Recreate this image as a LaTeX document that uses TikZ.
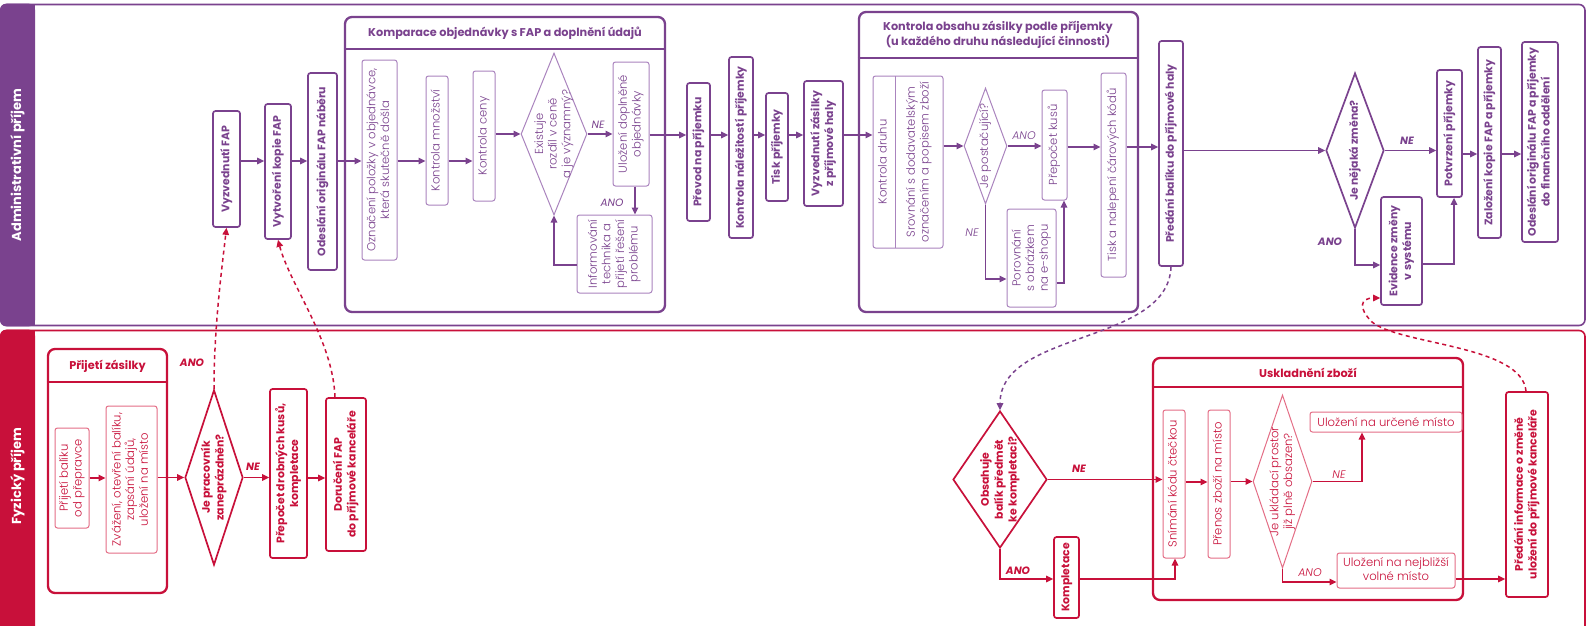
\documentclass[tikz,border=0pt]{standalone}
\usepackage{fontspec}
\setmainfont{Poppins}
\newfontfamily\lightfont{Poppins Light}[ItalicFont={Poppins Light Italic}]
\usetikzlibrary{arrows.meta,shapes.geometric}
\definecolor{vio}{RGB}{122,66,142}
\definecolor{vioL}{RGB}{170,132,190}
\definecolor{crim}{RGB}{200,16,58}
\definecolor{crimL}{RGB}{228,110,134}
% vertical (bottom-to-top) multi-line text
\newcommand\vt[1]{\rotatebox{90}{\begin{tabular}{@{}c@{}}#1\end{tabular}}}
\newcommand\hztext[1]{\begin{tabular}{@{}c@{}}#1\end{tabular}}
% box given by its corners: style, x1, y1, x2, y2, name, text
\newcommand\bx[7]{\node[#1,minimum width={#4-#2},minimum height={#5-#3}] (#6) at ({(#2+#4)/2},{(#3+#5)/2}) {#7};}
\renewcommand\arraystretch{1}
\tikzset{
  boldtxt/.style={font=\bfseries\fontsize{10.9}{13.8}\selectfont},
  thintxt/.style={font=\lightfont\fontsize{11.6}{13.6}\selectfont},
  boxV/.style={draw=vio,line width=1.7,rounded corners=2.5,text=vio,inner sep=0,boldtxt},
  thinV/.style={draw=vioL,line width=1,rounded corners=2.5,text=vio,inner sep=0,thintxt},
  boxR/.style={draw=crim,line width=1.7,rounded corners=2.5,text=crim,inner sep=0,boldtxt},
  thinR/.style={draw=crimL,line width=1,rounded corners=2.5,text=crim,inner sep=0,thintxt},
  grpV/.style={draw=vio,line width=2.3,rounded corners=7,inner sep=0},
  grpR/.style={draw=crim,line width=2.3,rounded corners=7,inner sep=0},
  diaV/.style={diamond,draw=vio,line width=1.7,inner sep=0},
  diaVt/.style={diamond,draw=vioL,line width=1,inner sep=0},
  diaR/.style={diamond,draw=crim,line width=1.7,inner sep=0},
  diaRt/.style={diamond,draw=crimL,line width=1,inner sep=0},
  arV/.style={draw=vio,line width=1.5,-{Triangle[length=7,width=6.5]}},
  arR/.style={draw=crim,line width=1.5,-{Triangle[length=7,width=6.5]}},
  dashV/.style={draw=vio,line width=1.5,dash pattern=on 4 off 3.5,-{Triangle[length=7,width=6.5]}},
  dashR/.style={draw=crim,line width=1.5,dash pattern=on 4 off 3.5,-{Triangle[length=7,width=6.5]}},
  labB/.style={inner sep=0,font=\bfseries\itshape\fontsize{10.6}{12}\selectfont},
  labM/.style={inner sep=0,font=\itshape\fontsize{10.6}{12}\selectfont},
  labL/.style={inner sep=0,font=\lightfont\itshape\fontsize{11}{12}\selectfont},
  ttl/.style={inner sep=0,font=\bfseries\fontsize{11.3}{15}\selectfont,align=center},
  lane/.style={inner sep=0,text=white,rotate=90,font=\bfseries\fontsize{13}{15}\selectfont}
}
\begin{document}
\begin{tikzpicture}[x=1pt,y=-1pt]
\useasboundingbox (0,0) rectangle (1587,625);
\clip (0,0) rectangle (1587,625);
\fill[white] (0,0) rectangle (1587,625);

% ---- swim lanes
\draw[vio,line width=1.6,rounded corners=6] (1,4.5) rectangle (1585,325.5);
\fill[vio,rounded corners=6] (0,3.7) rectangle (35,326.3);
\fill[vio] (25,3.7) rectangle (35,326.3);
\node[lane] (laneA) at (17.5,165) {Administrativní příjem};
\draw[crim,line width=1.6,rounded corners=6] (1,330.5) rectangle (1585,660);
\fill[crim,rounded corners=6] (0,329.7) rectangle (35,660);
\fill[crim] (25,329.7) rectangle (35,660);
\node[lane] (laneB) at (17.5,476) {Fyzický příjem};

% ---- administrative lane
\bx{boxV}{213}{111}{240}{227}{t1}{\vt{Vyzvednutí FAP}}
\bx{boxV}{265}{104}{291}{239}{t2}{\vt{Vytvoření kopie FAP}}
\bx{boxV}{308}{73}{337}{270}{t3}{\vt{Odeslání originálu FAP náběru}}

\bx{grpV}{345}{17}{665}{312}{grpA}{}
\draw[vio,line width=2.3] (grpA.west|-0,49) -- (grpA.east|-0,49);
\node[ttl,text=vio] (grpAt) at (505,33) {Komparace objednávky s FAP a doplnění údajů};
\bx{thinV}{362}{60}{397}{260}{k1}{\vt{Označení položky v objednávce,\\ která skutečně došla}}
\bx{thinV}{426}{76}{448}{205}{k2}{\vt{Kontrola množství}}
\bx{thinV}{473}{71}{495}{201}{k3}{\vt{Kontrola ceny}}
\bx{diaVt}{521}{53}{587}{215}{kd}{}
\node[thintxt,text=vio,inner sep=0] (kdt) at (kd) {\vt{Existuje\\ rozdíl v ceně\\ a je významný?}};
\bx{thinV}{613}{62}{649}{186}{k4}{\vt{Uložení doplněné\\ objednávky}}
\bx{thinV}{577}{215}{652}{293}{k5}{\vt{Informování\\ technika a\\ přijetí řešení\\ problému}}

\bx{boxV}{687}{83}{710}{221}{p1}{\vt{Převod na příjemku}}
\bx{boxV}{729}{57}{753}{238}{p2}{\vt{Kontrola náležitostí příjemky}}
\bx{boxV}{766}{93}{788}{201}{p3}{\vt{Tisk příjemky}}
\bx{boxV}{804}{81}{843}{206}{p4}{\vt{Vyzvednutí zásilky\\ z příjmové haly}}

\bx{grpV}{859}{12}{1138}{312}{grpB}{}
\draw[vio,line width=2.3] (grpB.west|-0,58) -- (grpB.east|-0,58);
\node[ttl,text=vio] (grpBt) at (998,35) {Kontrola obsahu zásilky podle příjemky\\(u každého druhu následující činnosti)};
\bx{thinV}{873}{76}{943}{248}{c1}{}
\draw[vioL,line width=1] (895,76) -- (895,248);
\node[thintxt,text=vio,inner sep=0] (c1a) at (884,162) {\vt{Kontrola druhu}};
\node[thintxt,text=vio,inner sep=0] (c1b) at (919,162) {\vt{Srovnání s dodavatelským\\ označením a popisem zboží}};
\bx{diaVt}{964}{88}{1007}{204}{cd}{}
\node[thintxt,text=vio,inner sep=0] (cdt) at (cd) {\vt{Je postačující?}};
\bx{thinV}{1042}{90}{1067}{200}{c2}{\vt{Přepočet kusů}}
\bx{thinV}{1007}{209}{1056}{307}{c3}{\vt{Porovnání\\ s obrázkem\\ na e-shopu}}
\bx{thinV}{1101}{73}{1126}{277}{c4}{\vt{Tisk a nalepení čárových kódů}}

\bx{boxV}{1159}{41}{1183}{266}{a1}{\vt{Předání balíku do příjmové haly}}
\bx{diaV}{1326}{73}{1384}{228}{ad}{}
\node[boldtxt,text=vio,inner sep=0] (adt) at (ad) {\vt{Je nějaká změna?}};
\bx{boxV}{1437}{70}{1462}{197}{a2}{\vt{Potvrzení příjemky}}
\bx{boxV}{1381}{197}{1422}{305}{a3}{\vt{Evidence změny\\ v systému}}
\bx{boxV}{1478}{47}{1501}{238}{a4}{\vt{Založení kopie FAP a příjemky}}
\bx{boxV}{1522}{42}{1558}{242}{a5}{\vt{Odeslání originálu FAP a příjemky\\ do finančního oddělení}}

% connectors, administrative lane
\draw[arV] (t1.east|-0,161) -- (t2.west|-0,161);
\draw[arV] (t2.east|-0,161) -- (t3.west|-0,161);
\draw[arV] (t3.east|-0,161) -- (k1.west|-0,161);
\draw[arV] (k1.east|-0,161) -- (k2.west|-0,161);
\draw[arV] (k2.east|-0,161) -- (k3.west|-0,161);
\draw[arV] (k3.east|-kd.west) -- (kd.west);
\draw[arV] (kd.east) -- (k4.west|-kd.east);
\draw[arV] (k4.south-|635,0) -- (k5.north-|635,0);
\draw[arV] (k5.west|-0,265) -| (kd.south);
\draw[arV] (k4.east|-0,135) -- (p1.west|-0,135);
\draw[arV] (p1.east|-0,135) -- (p2.west|-0,135);
\draw[arV] (p2.east|-0,135) -- (p3.west|-0,135);
\draw[arV] (p3.east|-0,135) -- (p4.west|-0,135);
\draw[arV] (p4.east|-0,135) -- (c1.west|-0,135);
\draw[arV] (c1.east|-cd.west) -- (cd.west);
\draw[arV] (cd.east) -- (c2.west|-cd.east);
\draw[arV] (cd.south) |- (c3.west|-0,279);
\draw[arV] (c3.east|-0,283) -| (c2.south-|1064,0);
\draw[arV] (c2.east|-0,147) -- (c4.west|-0,147);
\draw[arV] (c4.east|-0,147) -- (a1.west|-0,147);
\draw[arV] (a1.east|-ad.west) -- (ad.west);
\draw[arV] (ad.east) -- (a2.west|-ad.east);
\draw[arV] (ad.south) |- (a3.west|-0,265);
\draw[arV] (a3.east|-0,264) -| (a2.south-|1454,0);
\draw[arV] (a2.east|-0,154) -- (a4.west|-0,154);
\draw[arV] (a4.east|-0,154) -- (a5.west|-0,154);

\node[labM,text=vio] (lkdN) at (598,125) {NE};
\node[labM,text=vio] (lkdA) at (612,203) {ANO};
\node[labL,text=vio] (lcdA) at (1024,136) {ANO};
\node[labL,text=vio] (lcdN) at (972,233) {NE};
\node[labB,text=vio] (ladN) at (1407,141) {NE};
\node[labB,text=vio] (ladA) at (1330,242) {ANO};

% ---- physical lane
\bx{grpR}{48}{349}{167}{593}{grpC}{}
\draw[crim,line width=2.3] (grpC.west|-0,382) -- (grpC.east|-0,382);
\node[ttl,text=crim] (grpCt) at (107.5,366) {Přijetí zásilky};
\bx{thinR}{55}{428}{89}{528}{f1}{\vt{Přijetí balíku\\ od přepravce}}
\bx{thinR}{106}{406}{157}{553}{f2}{\vt{Zvážení, otevření balíku,\\ zapsání údajů,\\ uložení na místo}}
\bx{diaR}{185}{390}{243}{565}{fd}{}
\node[boldtxt,text=crim,inner sep=0] (fdt) at (fd) {\vt{Je pracovník\\ zaneprázdněn?}};
\bx{boxR}{270}{389}{307}{558}{f3}{\vt{Přepočet drobných kusů,\\ kompletace}}
\bx{boxR}{326}{398}{366}{551}{f4}{\vt{Doručení FAP\\ do příjmové kanceláře}}

\bx{diaR}{953}{411}{1047}{548}{gd}{}
\node[boldtxt,text=crim,inner sep=0] (gdt) at (gd) {\vt{Obsahuje\\ balík předmět\\ ke kompletaci?}};
\bx{boxR}{1054}{537}{1079}{618}{g1}{\vt{Kompletace}}

\bx{grpR}{1153}{358}{1463}{600}{grpD}{}
\draw[crim,line width=2.3] (grpD.west|-0,387) -- (grpD.east|-0,387);
\node[ttl,text=crim] (grpDt) at (1308,373) {Uskladnění zboží};
\bx{thinR}{1163}{410}{1185}{558}{s1}{\vt{Snímání kódu čtečkou}}
\bx{thinR}{1208}{410}{1230}{558}{s2}{\vt{Přenos zboží na místo}}
\bx{diaRt}{1253}{395}{1312}{568}{sd}{}
\node[thintxt,text=crim,inner sep=0] (sdt) at (sd) {\vt{Je ukládací prostor\\ již plně obsazen?}};
\bx{thinR}{1310}{412}{1462}{432}{s3}{Uložení na určené místo}
\bx{thinR}{1337}{553}{1455}{588}{s4}{\hztext{Uložení na nejbližší\\ volné místo}}
\bx{boxR}{1506}{392}{1548}{597}{r1}{\vt{Předání informace o změně\\ uložení do příjmové kanceláře}}

% connectors, physical lane
\draw[arR] (f1.east|-0,478) -- (f2.west|-0,478);
\draw[arR] (f2.east|-fd.west) -- (fd.west);
\draw[arR] (fd.east) -- (f3.west|-fd.east);
\draw[arR] (f3.east|-0,478) -- (f4.west|-0,478);
\draw[arR] (gd.east) -- (s1.west|-gd.east);
\draw[arR] (gd.south) |- (g1.west|-0,579);
\draw[arR] (g1.east|-0,579) -| (s1.south-|1175,0);
\draw[arR] (s1.east|-0,482) -- (s2.west|-0,482);
\draw[arR] (s2.east|-sd.west) -- (sd.west);
\draw[arR] (sd.east) -| (s3.south-|1362,0);
\draw[arR] (sd.south) |- (s4.west|-0,582);
\draw[arR] (s4.east|-0,579) -- (r1.west|-0,579);

\node[labB,text=crim] (lfdA) at (192,363) {ANO};
\node[labB,text=crim] (lfdN) at (253,467) {NE};
\node[labB,text=crim] (lgdN) at (1079,469) {NE};
\node[labB,text=crim] (lgdA) at (1018,571) {ANO};
\node[labL,text=crim] (lsdN) at (1339,475) {NE};
\node[labL,text=crim] (lsdA) at (1310,573) {ANO};

% ---- hand-overs between the lanes
\draw[dashR] (fd.north) .. controls (214,330) and (221,275) .. (t1.south);
\draw[dashR] (f4.north-|335,0) .. controls (333,340) and (290,285) .. (t2.south);
\draw[dashV] (a1.south) .. controls (1168,345) and (1000,330) .. (gd.north);
\draw[dashR] (r1.north-|1526,0) .. controls (1522,345) and (1400,345) .. (1372,322)
  .. controls (1358,308) and (1360,298) .. (a3.west|-0,298);
\end{tikzpicture}
\end{document}
